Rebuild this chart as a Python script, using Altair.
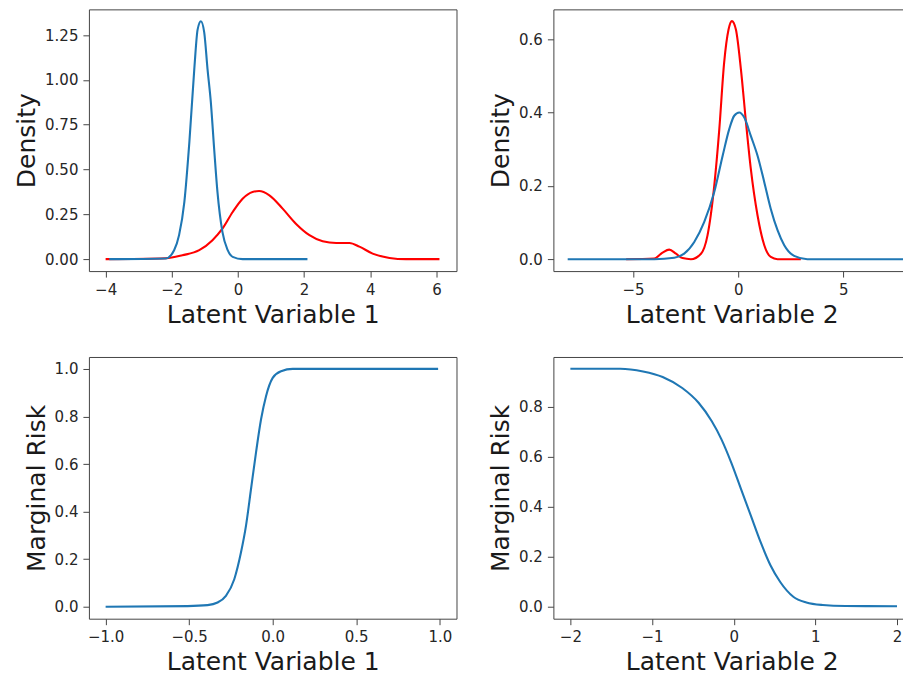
import altair as alt
import pandas as pd

# ---- Top-left: Density vs Latent Variable 1 ----
tl_red_x = [-4.0, -2.18, -1.68, -1.17, -0.77, -0.47, -0.16, 0.14, 0.44, 0.64, 0.95, 1.35, 1.75, 2.16, 2.56, 2.97, 3.37, 3.67, 4.07, 4.58, 5.08, 6.09]
tl_red_y = [0.0, 0.005, 0.022, 0.05, 0.106, 0.17, 0.263, 0.337, 0.375, 0.38, 0.356, 0.282, 0.198, 0.134, 0.1, 0.09, 0.09, 0.07, 0.031, 0.007, 0.0, 0.0]
tl_blue_x = [-3.89, -2.18, -1.93, -1.78, -1.62, -1.47, -1.32, -1.22, -1.12, -1.02, -0.92, -0.82, -0.72, -0.62, -0.47, -0.31, -0.16, 0.14, 2.1]
tl_blue_y = [0.0, 0.004, 0.05, 0.134, 0.32, 0.65, 1.06, 1.28, 1.327, 1.265, 1.06, 0.876, 0.616, 0.375, 0.152, 0.05, 0.013, 0.0, 0.0]

# ---- Top-right: Density vs Latent Variable 2 ----
tr_red_x = [-5.33, -3.99, -3.6, -3.28, -2.96, -2.65, -2.25, -1.77, -1.46, -1.14, -0.9, -0.67, -0.46, -0.3, -0.11, 0.13, 0.37, 0.6, 0.92, 1.24, 1.55, 1.87, 2.98]
tr_red_y = [0.0, 0.002, 0.018, 0.026, 0.015, 0.003, 0.0, 0.015, 0.065, 0.2, 0.354, 0.535, 0.626, 0.649, 0.626, 0.517, 0.373, 0.246, 0.119, 0.038, 0.006, 0.0, 0.0]
tr_blue_x = [-8.11, -3.99, -3.04, -2.57, -2.09, -1.62, -1.14, -0.74, -0.43, -0.19, 0.05, 0.29, 0.6, 0.92, 1.24, 1.55, 1.87, 2.19, 2.66, 3.29, 7.85]
tr_blue_y = [0.0, 0.0, 0.004, 0.015, 0.047, 0.101, 0.183, 0.282, 0.354, 0.391, 0.4, 0.386, 0.336, 0.282, 0.21, 0.137, 0.079, 0.038, 0.009, 0.0, 0.0]

# ---- Bottom-left: Marginal Risk vs Latent Variable 1 ----
bl_x = [-1.0, -0.51, -0.39, -0.33, -0.28, -0.23, -0.19, -0.16, -0.13, -0.10, -0.07, -0.04, 0.0, 0.05, 0.12, 0.99]
bl_y = [0.0, 0.003, 0.007, 0.018, 0.046, 0.116, 0.228, 0.34, 0.494, 0.648, 0.787, 0.885, 0.962, 0.99, 1.0, 1.0]

# ---- Bottom-right: Marginal Risk vs Latent Variable 2 ----
br_x = [-2.0, -1.39, -1.11, -0.87, -0.63, -0.43, -0.27, -0.15, -0.03, 0.09, 0.21, 0.33, 0.45, 0.57, 0.73, 0.89, 1.09, 1.37, 2.0]
br_y = [0.951, 0.951, 0.94, 0.918, 0.874, 0.815, 0.742, 0.669, 0.576, 0.47, 0.364, 0.258, 0.166, 0.099, 0.04, 0.017, 0.007, 0.003, 0.002]

BLUE = "#1f77b4"
RED = "#ff0000"


def line(xs, ys, color, xscale, yscale, xaxis, yaxis, w, h):
    df = pd.DataFrame({"x": xs, "y": ys})
    return alt.Chart(df).mark_line(
        color=color, strokeWidth=2.1, interpolate="monotone", clip=True
    ).encode(
        x=alt.X("x:Q", scale=xscale, axis=xaxis),
        y=alt.Y("y:Q", scale=yscale, axis=yaxis),
    ).properties(width=w, height=h)


def panel(series, xdom, ydom, xticks, yticks, xfmt, yfmt, xtitle, ytitle, w, h):
    xscale = alt.Scale(domain=xdom, nice=False, zero=False)
    yscale = alt.Scale(domain=ydom, nice=False, zero=False)
    xaxis = alt.Axis(values=xticks, format=xfmt, title=xtitle)
    yaxis = alt.Axis(values=yticks, format=yfmt, title=ytitle)
    layers = [line(xs, ys, c, xscale, yscale, xaxis, yaxis, w, h) for xs, ys, c in series]
    return alt.layer(*layers)


H = 262
WL = 368
WR = 357

tl = panel([(tl_red_x, tl_red_y, RED), (tl_blue_x, tl_blue_y, BLUE)],
           [-4.505, 6.605], [-0.0664, 1.393], [-4, -2, 0, 2, 4, 6], [0, 0.25, 0.5, 0.75, 1.0, 1.25],
           "d", ".2f", "Latent Variable 1", "Density", WL, H)
tr = panel([(tr_red_x, tr_red_y, RED), (tr_blue_x, tr_blue_y, BLUE)],
           [-8.79, 8.17], [-0.0324, 0.681], [-5, 0, 5], [0, 0.2, 0.4, 0.6],
           "d", ".1f", "Latent Variable 2", "Density", WR, H)
bl = panel([(bl_x, bl_y, BLUE)],
           [-1.1, 1.1], [-0.05, 1.05], [-1.0, -0.5, 0.0, 0.5, 1.0], [0, 0.2, 0.4, 0.6, 0.8, 1.0],
           ".1f", ".1f", "Latent Variable 1", "Marginal Risk", WL, H)
br = panel([(br_x, br_y, BLUE)],
           [-2.208, 2.159], [-0.0476, 0.998], [-2, -1, 0, 1, 2], [0, 0.2, 0.4, 0.6, 0.8],
           "d", ".1f", "Latent Variable 2", "Marginal Risk", WR, H)

chart = alt.concat(tl, tr, bl, br, columns=2, spacing={"row": 28, "column": 30}).properties(
    padding={"left": 6, "top": 0, "right": -8, "bottom": 0}
).configure_view(
    stroke="#444444", strokeWidth=1
).configure_axis(
    domain=False, grid=False,
    tickColor="#444444", tickSize=6, tickWidth=1,
    labelFont="DejaVu Sans", labelFontSize=15, labelColor="#262626", labelPadding=5,
    titleFont="DejaVu Sans", titleFontSize=25, titleFontWeight="normal", titleColor="#1a1a1a",
    titlePadding=5,
)

chart.save("out.html", embed_options={"renderer": "svg", "actions": False})
